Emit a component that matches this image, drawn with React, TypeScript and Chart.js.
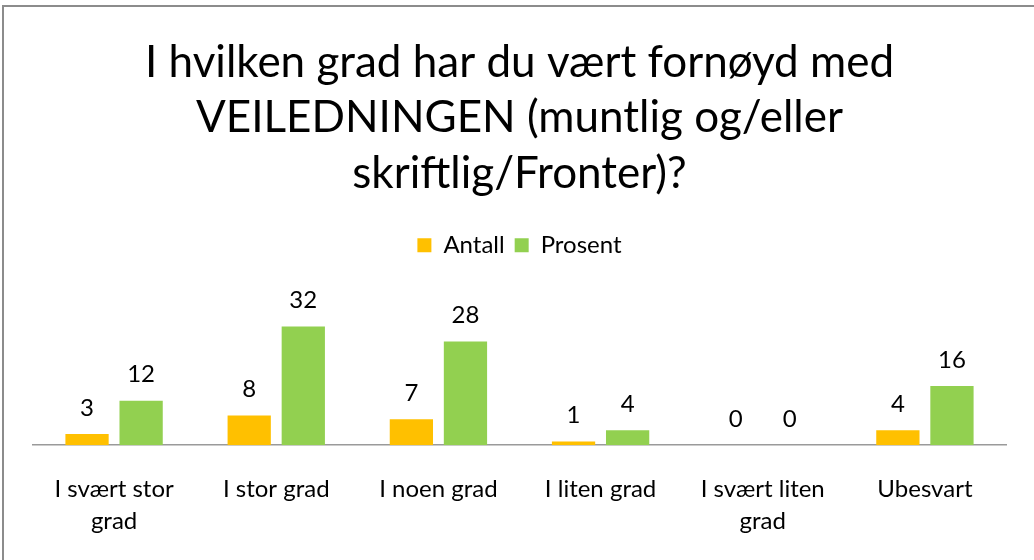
import React, { useEffect, useRef } from "react";
import { Chart, registerables } from "chart.js";

Chart.register(...registerables);

const titleLines = [
  "I hvilken grad har du vært fornøyd med",
  "VEILEDNINGEN (muntlig og/eller",
  "skriftlig/Fronter)?",
];
const categories: string[][] = [
  ["I svært stor", "grad"],
  ["I stor grad"],
  ["I noen grad"],
  ["I liten grad"],
  ["I svært liten", "grad"],
  ["Ubesvart"],
];
const antall = [3, 8, 7, 1, 0, 4];
const prosent = [12, 32, 28, 4, 0, 16];

const FONT = "Lato, 'Open Sans', sans-serif";

const frameAndLabels = {
  id: "frameAndLabels",
  afterDatasetsDraw(chart: any) {
    const ctx = chart.ctx;
    ctx.save();
    ctx.font = `24px ${FONT}`;
    ctx.fillStyle = "#000";
    ctx.textAlign = "center";
    ctx.textBaseline = "middle";
    chart.data.datasets.forEach((ds: any, i: number) => {
      const meta = chart.getDatasetMeta(i);
      meta.data.forEach((bar: any, j: number) => {
        ctx.fillText(String(ds.data[j]), bar.x, bar.y - 26);
      });
    });
    ctx.restore();
  },
  afterDraw(chart: any) {
    const ctx = chart.ctx;
    ctx.save();
    ctx.strokeStyle = "#8c8c8c";
    ctx.lineWidth = 2;
    ctx.strokeRect(3, 6, 1100, 700);
    ctx.restore();
  },
};

export default function App() {
  const ref = useRef<HTMLCanvasElement>(null);
  useEffect(() => {
    if (!ref.current) return;
    const chart = new Chart(ref.current, {
      type: "bar",
      data: {
        labels: categories,
        datasets: [
          { label: "Antall", data: antall, backgroundColor: "#FFC000", categoryPercentage: 0.667, barPercentage: 0.8 },
          { label: "Prosent", data: prosent, backgroundColor: "#92D050", categoryPercentage: 0.667, barPercentage: 0.8 },
        ],
      },
      plugins: [frameAndLabels],
      options: {
        animation: false,
        responsive: false,
        maintainAspectRatio: false,
        layout: { padding: { left: 33, right: 28, top: 0, bottom: -5 } },
        plugins: {
          title: {
            display: true,
            text: titleLines,
            color: "#000",
            font: { family: FONT, size: 44, weight: "normal", lineHeight: 1.26 },
            padding: { top: 35, bottom: 22 },
          },
          legend: {
            display: true,
            position: "top",
            labels: {
              color: "#000",
              font: { family: FONT, size: 24 },
              boxWidth: 14,
              boxHeight: 14,
              padding: 10,
            },
          },
          tooltip: { enabled: false },
        },
        scales: {
          x: {
            grid: { display: false, drawTicks: false },
            border: { display: true, color: "#9a9a9a", width: 1.5 },
            ticks: {
              color: "#000",
              font: { family: FONT, size: 24, lineHeight: 1.33 },
              padding: 28,
              maxRotation: 0,
              autoSkip: false,
            },
          },
          y: {
            display: false,
            min: 0,
            max: 48,
            grid: { display: false },
          },
        },
      },
    });
    return () => chart.destroy();
  }, []);
  return (
    <div style={{ position: "fixed", left: 0, top: 0, width: 1034, height: 560, background: "#fff" }}>
      <canvas ref={ref} width={1034} height={560} style={{ width: 1034, height: 560 }} />
    </div>
  );
}
